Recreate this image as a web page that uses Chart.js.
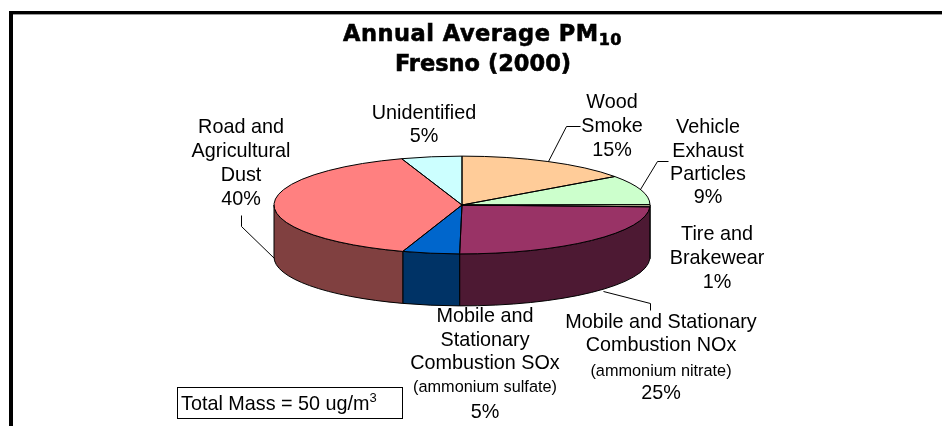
<!DOCTYPE html>
<html>
<head>
<meta charset="utf-8">
<title>Annual Average PM10 Fresno (2000)</title>
<script src="https://cdn.jsdelivr.net/npm/chart.js@4/dist/chart.umd.js"></script>
<style>
  html, body { margin: 0; padding: 0; background: #fff; }
  #wrap { width: 942px; height: 426px; position: relative; overflow: hidden; }
</style>
</head>
<body>
<div id="wrap"><canvas id="pie" width="942" height="426"></canvas></div>
<script>
// Slice data, clockwise from 12 o'clock
const categories = ['Wood Smoke', 'Vehicle Exhaust Particles', 'Tire and Brakewear',
  'Mobile and Stationary Combustion NOx', 'Mobile and Stationary Combustion SOx',
  'Road and Agricultural Dust', 'Unidentified'];
const shares = [15.1, 9.8, 0.7, 24.6, 4.9, 39.7, 5.2];
const topColors = ['#FFCC99', '#CCFFCC', '#FFFFCC', '#993366', '#0066CC', '#FF8080', '#CCFFFF'];
const sideColors = ['#806633', '#668066', '#808066', '#4D1933', '#003366', '#804040', '#668080'];

const titleLines = ['Annual Average PM', 'Fresno (2000)'];

// Label text blocks: [text, y, small?]
const labelBlocks = [
  { x: 612, lines: [['Wood', 103], ['Smoke', 127], ['15%', 151]] },
  { x: 708, lines: [['Vehicle', 128], ['Exhaust', 152], ['Particles', 175], ['9%', 198]] },
  { x: 717, lines: [['Tire and', 235], ['Brakewear', 259], ['1%', 283]] },
  { x: 661, lines: [['Mobile and Stationary', 323], ['Combustion NOx', 346], ['(ammonium nitrate)', 372, true], ['25%', 394]] },
  { x: 485, lines: [['Mobile and', 317], ['Stationary', 341], ['Combustion SOx', 364], ['(ammonium sulfate)', 388, true], ['5%', 413]] },
  { x: 241, lines: [['Road and', 128], ['Agricultural', 152], ['Dust', 176], ['40%', 200]] },
  { x: 424, lines: [['Unidentified', 114], ['5%', 137]] }
];

const leaderLines = [
  [[548, 161], [566, 126], [580, 126]],
  [[640, 189], [657, 161], [668, 161]],
  [[603, 291], [650, 303], [650, 310]],
  [[274, 258], [241, 226], [241, 215]]
];

const squash = 0.26;   // vertical scale of the top face
const depth = 52;      // wall height in px
const labelFont = '19.8px "Liberation Sans", Arial, sans-serif';

// Walls: only the part of each slice facing the viewer (angle 0..PI in canvas terms)
function drawWalls(ctx, arcs) {
  arcs.forEach((arc, i) => {
    const from = Math.max(arc.startAngle, 0);
    const to = Math.min(arc.endAngle, Math.PI);
    if (to <= from) return;
    const rx = arc.outerRadius, ry = rx * squash;
    ctx.beginPath();
    ctx.ellipse(arc.x, arc.y, rx, ry, 0, from, to);
    ctx.lineTo(arc.x + Math.cos(to) * rx, arc.y + Math.sin(to) * ry + depth);
    ctx.ellipse(arc.x, arc.y + depth, rx, ry, 0, to, from, true);
    ctx.closePath();
    ctx.fillStyle = sideColors[i];
    ctx.fill();
    ctx.strokeStyle = '#000';
    ctx.lineWidth = 1;
    ctx.stroke();
  });
}

// Outline of the top face, drawn unscaled so the stroke stays even
function drawOutlines(ctx, arcs) {
  ctx.strokeStyle = '#000';
  ctx.lineWidth = 1;
  arcs.forEach(arc => {
    const rx = arc.outerRadius, ry = rx * squash;
    ctx.beginPath();
    ctx.moveTo(arc.x, arc.y);
    ctx.ellipse(arc.x, arc.y, rx, ry, 0, arc.startAngle, arc.endAngle);
    ctx.closePath();
    ctx.stroke();
  });
}

const pie3d = {
  id: 'pie3d',
  beforeDatasetsDraw(chart) {
    const ctx = chart.ctx;
    const arcs = chart.getDatasetMeta(0).data;
    drawWalls(ctx, arcs);
    ctx.save();
    ctx.translate(0, arcs[0].y);
    ctx.scale(1, squash);
    ctx.translate(0, -arcs[0].y);
  },
  afterDatasetsDraw(chart) {
    const ctx = chart.ctx;
    ctx.restore();
    drawOutlines(ctx, chart.getDatasetMeta(0).data);
  }
};

const annotations = {
  id: 'annotations',
  afterDraw(chart) {
    const ctx = chart.ctx;
    ctx.save();

    // Frame
    ctx.fillStyle = '#000';
    ctx.fillRect(9, 11, 933, 3);
    ctx.fillRect(9, 11, 4, 415);
    ctx.fillStyle = '#999';
    ctx.fillRect(13, 14, 929, 1);

    // Title with subscript, stroked a little to get the heavy look
    ctx.fillStyle = '#000';
    ctx.strokeStyle = '#000';
    ctx.lineWidth = 0.6;
    ctx.textBaseline = 'alphabetic';
    ctx.textAlign = 'left';
    const titleFont = 'bold 22.5px "DejaVu Sans", sans-serif';
    const subFont = 'bold 16px "DejaVu Sans", sans-serif';
    ctx.letterSpacing = '0.5px';
    ctx.font = titleFont;
    const w1 = ctx.measureText(titleLines[0]).width;
    ctx.font = subFont;
    const w2 = ctx.measureText('10').width;
    const left = 482.5 - (w1 + w2) / 2;
    ctx.font = titleFont;
    ctx.fillText(titleLines[0], left, 41);
    ctx.strokeText(titleLines[0], left, 41);
    ctx.font = subFont;
    ctx.fillText('10', left + w1, 45);
    ctx.strokeText('10', left + w1, 45);
    ctx.letterSpacing = '0px';
    ctx.font = titleFont;
    ctx.textAlign = 'center';
    ctx.fillText(titleLines[1], 483, 71);
    ctx.strokeText(titleLines[1], 483, 71);

    // Leader lines
    ctx.strokeStyle = '#000';
    ctx.lineWidth = 1;
    leaderLines.forEach(pts => {
      ctx.beginPath();
      pts.forEach((p, i) => i ? ctx.lineTo(p[0] + 0.5, p[1] + 0.5) : ctx.moveTo(p[0] + 0.5, p[1] + 0.5));
      ctx.stroke();
    });

    // Slice labels
    ctx.textAlign = 'center';
    ctx.textBaseline = 'middle';
    labelBlocks.forEach(block => {
      block.lines.forEach(line => {
        ctx.font = line[2] ? '16.3px "Liberation Sans", Arial, sans-serif' : labelFont;
        ctx.fillText(line[0], block.x, line[1]);
      });
    });

    // Total mass box
    ctx.fillStyle = '#fff';
    ctx.fillRect(177, 387, 226, 32);
    ctx.strokeStyle = '#000';
    ctx.strokeRect(177.5, 387.5, 225, 31);
    ctx.fillStyle = '#000';
    ctx.textAlign = 'left';
    ctx.textBaseline = 'alphabetic';
    ctx.font = labelFont;
    ctx.fillText('Total Mass = 50 ug/m', 181, 410);
    const tw = ctx.measureText('Total Mass = 50 ug/m').width;
    ctx.font = '13px "Liberation Sans", Arial, sans-serif';
    ctx.fillText('3', 181 + tw, 402);
    ctx.restore();
  }
};

new Chart(document.getElementById('pie'), {
  type: 'pie',
  data: {
    labels: categories,
    datasets: [{
      data: shares,
      backgroundColor: topColors,
      borderWidth: 0,
      clip: false
    }]
  },
  options: {
    responsive: false,
    animation: false,
    layout: { padding: { left: 274, right: 292, top: 17, bottom: 33 } },
    plugins: { legend: { display: false }, tooltip: { enabled: false }, title: { display: false } }
  },
  plugins: [pie3d, annotations]
});
</script>
</body>
</html>
